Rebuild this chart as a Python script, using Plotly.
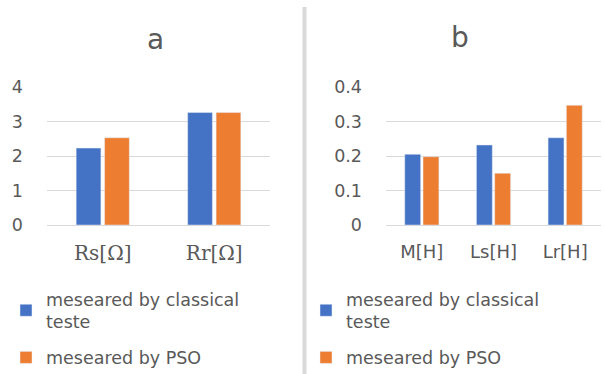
import plotly.graph_objects as go

cats_a = ["Rs[Ω]", "Rr[Ω]"]
classical_a = [2.23, 3.26]
pso_a = [2.53, 3.26]

cats_b = ["M[H]", "Ls[H]", "Lr[H]"]
classical_b = [0.205, 0.232, 0.253]
pso_b = [0.198, 0.150, 0.347]

name_classical = "meseared by classical<br>teste"
name_pso = "meseared by PSO"
titles = ["a", "b"]

BLUE = "#4472C4"
ORANGE = "#ED7D31"
GRAY = "#595959"
GRID = "#D9D9D9"

fig = go.Figure()
fig.add_trace(go.Bar(x=cats_a, y=classical_a, name=name_classical, marker_color=BLUE,
                     xaxis="x", yaxis="y", legend="legend", legendgroup="a1"))
fig.add_trace(go.Bar(x=cats_a, y=pso_a, name=name_pso, marker_color=ORANGE,
                     xaxis="x", yaxis="y", legend="legend", legendgroup="a2"))
fig.add_trace(go.Bar(x=cats_b, y=classical_b, name=name_classical, marker_color=BLUE,
                     xaxis="x2", yaxis="y2", legend="legend2", legendgroup="b1"))
fig.add_trace(go.Bar(x=cats_b, y=pso_b, name=name_pso, marker_color=ORANGE,
                     xaxis="x2", yaxis="y2", legend="legend2", legendgroup="b2"))

ydom = [1 - 225 / 374, 1 - 87 / 374]
tickfont = dict(family="DejaVu Sans", size=17.5, color=GRAY)
common_y = dict(domain=ydom, showgrid=True, gridcolor=GRID, gridwidth=1,
                zeroline=True, zerolinecolor=GRID, zerolinewidth=1,
                showline=False, tickfont=tickfont, ticklabelstandoff=23)

legend_common = dict(font=dict(family="DejaVu Sans", size=17.5, color=GRAY),
                     bgcolor="rgba(0,0,0,0)", yanchor="top", xanchor="left",
                     tracegroupgap=10, itemwidth=30, traceorder="grouped")

fig.update_layout(
    width=605, height=374,
    margin=dict(l=0, r=0, t=0, b=0, autoexpand=False),
    paper_bgcolor="white", plot_bgcolor="white",
    barmode="group", bargap=0.49, bargroupgap=0.13,
    xaxis=dict(domain=[47 / 605, 270 / 605], anchor="y", showgrid=False, showline=False,
               tickfont=dict(family="DejaVu Serif", size=20, color=GRAY), ticklabelstandoff=14),
    yaxis=dict(anchor="x", range=[0, 4.001], dtick=1, **common_y),
    xaxis2=dict(domain=[386 / 605, 601 / 605], anchor="y2", showgrid=False, showline=False,
                tickfont=dict(family="DejaVu Sans", size=18, color=GRAY), ticklabelstandoff=14),
    yaxis2=dict(anchor="x2", range=[0, 0.4001], dtick=0.1, **common_y),
    legend=dict(x=6 / 605, y=1 - 281 / 374, **legend_common),
    legend2=dict(x=306 / 605, y=1 - 281 / 374, **legend_common),
    annotations=[
        dict(text=titles[0], x=145 / 605, y=1 - 40 / 374, xref="paper", yref="paper",
             yanchor="middle", showarrow=False,
             font=dict(family="DejaVu Sans", size=28, color=GRAY)),
        dict(text=titles[1], x=471 / 605, y=1 - 38 / 374, xref="paper", yref="paper",
             yanchor="middle", showarrow=False,
             font=dict(family="DejaVu Sans", size=28, color=GRAY)),
    ],
    shapes=[dict(type="line", xref="paper", yref="paper", x0=304.5 / 605, x1=304.5 / 605,
                 y0=0, y1=1 - 7 / 374, line=dict(color=GRID, width=4))],
)

fig.write_html("out.html", config={"displayModeBar": False},
               post_script="document.body.style.margin='0';")
